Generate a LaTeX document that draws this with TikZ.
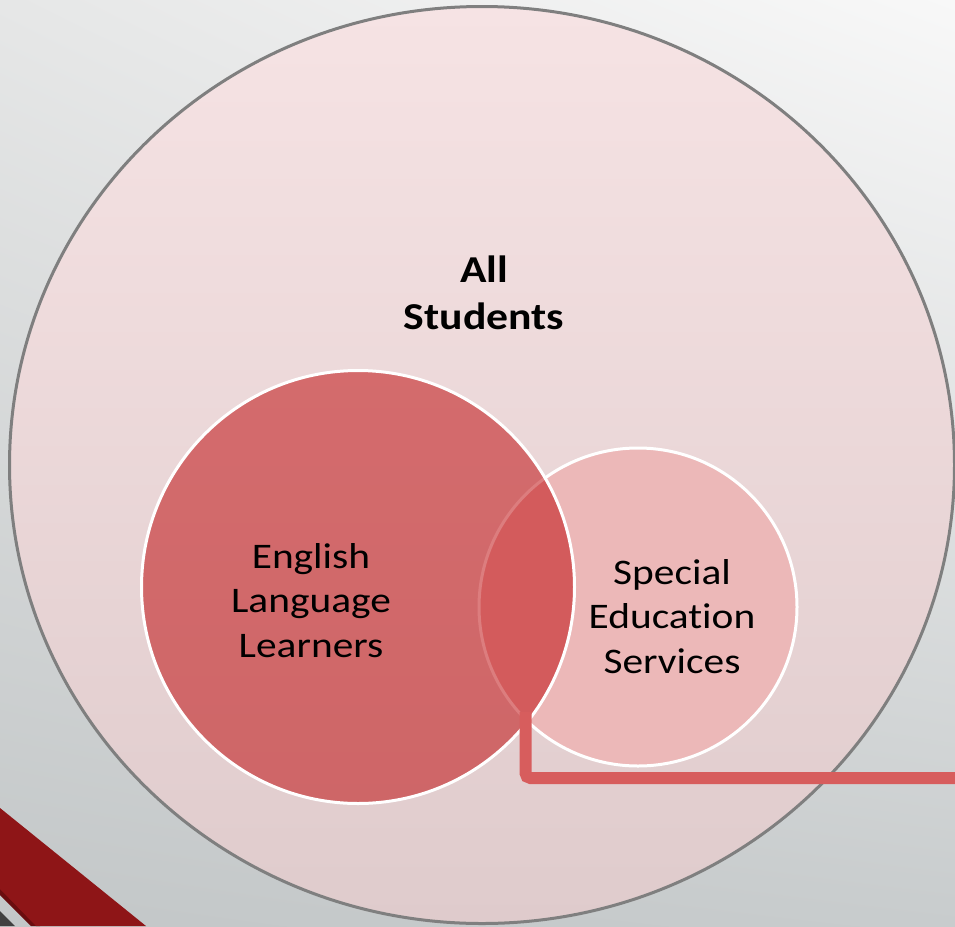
\documentclass[tikz,border=0pt]{standalone}
\usepackage{fontspec}
\setmainfont{Carlito}[FakeStretch=1.15, Ligatures=NoCommon]
\usetikzlibrary{shapes.geometric,shadings}
\definecolor{bgTL}{HTML}{E6E7E7}
\definecolor{bgTR}{HTML}{F8F8F8}
\definecolor{bgBL}{HTML}{C3C7C8}
\definecolor{bgBR}{HTML}{C8CCCD}
\definecolor{outline}{HTML}{7F7F7F}
\definecolor{allTop}{HTML}{F6E3E4}
\definecolor{allBot}{HTML}{DFCBCC}
\definecolor{ellred}{HTML}{BE0A0C}
\definecolor{sespink}{HTML}{ECB8B8}
\definecolor{connred}{HTML}{D75D5D}
\definecolor{bandred}{HTML}{8E1517}
\definecolor{bandshadow}{HTML}{6A0D0F}
\definecolor{cornergrey}{HTML}{404040}
\begin{document}
\begin{tikzpicture}[x=1pt,y=-1pt,
  setcircle/.style={circle, inner sep=0pt, draw=white, line width=3pt},
  lbl/.style={align=center, text=black, inner sep=0pt, font=\fontsize{36}{44.5}\selectfont},
  boldlbl/.style={align=center, text=black, inner sep=0pt, font=\fontsize{38}{47}\selectfont\bfseries},
  conn/.style={draw=connred, line width=12pt, rounded corners=5pt}]
\useasboundingbox (0,0) rectangle (955,926);
\shade[upper left=bgTL, upper right=bgTR, lower left=bgBL, lower right=bgBR] (0,0) rectangle (955,926);
% bottom-left decoration
\fill[cornergrey] (0,911) -- (15,926) -- (0,926) -- cycle;
\fill[bandshadow] (0,886) -- (40,926) -- (31,926) -- (0,895) -- cycle;
\fill[bandred] (0,808) -- (146,926) -- (36,926) -- (0,889) -- cycle;
% sets
\node[ellipse, inner sep=0pt, draw=outline, line width=3pt, top color=allTop, bottom color=allBot,
      minimum width=945pt, minimum height=917pt] (all) at (482,465) {};
\node[setcircle, fill=sespink, minimum size=318pt] (ses) at (638,607) {};
\node[setcircle, fill=ellred, fill opacity=0.53, draw opacity=1, minimum size=433pt] (ell) at (358,587) {};
% labels (anchor=base sits on the last line's baseline)
\node[boldlbl, anchor=base] (allt) at (484,329) {All\\Students};
\node[lbl, anchor=base] (ellt) at (311,657) {English\\Language\\Learners};
\node[lbl, anchor=base] (sest) at (672,673) {Special\\Education\\Services};
% connector
\coordinate (lens) at (525.5,712);
\coordinate (exit) at (955,778);
\draw[conn] (lens) |- (exit);
\end{tikzpicture}
\end{document}
